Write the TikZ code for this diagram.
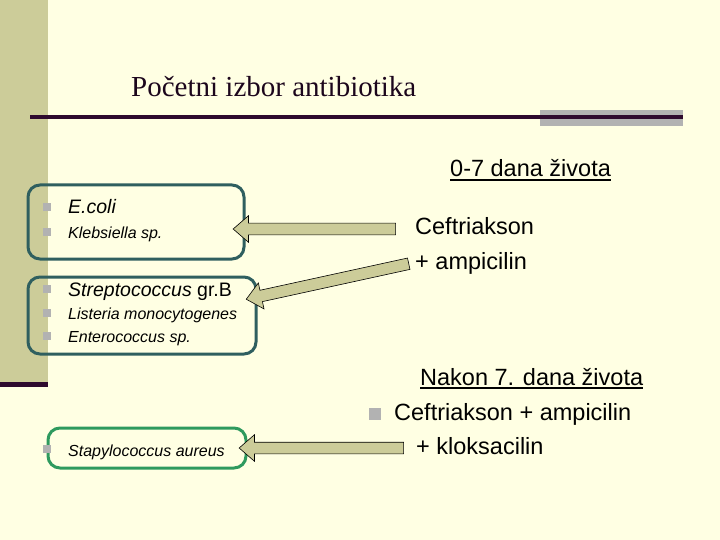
\documentclass[tikz,border=0pt]{standalone}
\usepackage{fontspec}
\setmainfont{Liberation Serif}
\setsansfont{Liberation Sans}
\usetikzlibrary{calc,shapes.arrows}
\definecolor{slidebg}{HTML}{FFFFE3}
\definecolor{bandkhaki}{HTML}{CCCC99}
\definecolor{ruleplum}{HTML}{2E0A2E}
\definecolor{bargray}{HTML}{B2B2B2}
\definecolor{boxteal}{HTML}{2F5F5F}
\definecolor{boxgreen}{HTML}{2E9A5E}

\tikzset{
  group/.style={draw=boxteal,line width=3pt,rounded corners=12pt,inner sep=0pt},
  bug/.style={font=\fontsize{#1}{#1}\sffamily\itshape,anchor=base west,inner sep=0pt},
  drug/.style={font=\fontsize{23.5}{23.5}\sffamily,anchor=base west,inner sep=0pt},
  fatarrow/.style={single arrow,draw=black,fill=bandkhaki,line width=0.6pt,
    inner xsep=0pt,inner ysep=5.5pt,minimum width=26pt,single arrow head extend=7.5pt,
    single arrow tip angle=82,midway,sloped,allow upside down},
}
\newcommand\blockarrow[2]{%
  \path let \p1=($(#2)-(#1)$), \n1={veclen(\x1,\y1)} in
    (#1) -- (#2) node[fatarrow,minimum height=\n1] {};}

\begin{document}
\begin{tikzpicture}[x=1pt,y=-1pt]
  \fill[slidebg] (0,0) rectangle (720,540);
  \useasboundingbox (0,0) rectangle (720,540);
  % left band and title rule
  \fill[bandkhaki] (0,0) rectangle (48,382);
  \fill[ruleplum] (0,382) rectangle (48,387);
  \fill[bargray] (540,110) rectangle (683,126);
  \draw[ruleplum,line width=4pt] (30,117) -- (683,117);
  \node[font=\fontsize{29}{29}\selectfont,anchor=base west,inner sep=0pt,text=ruleplum!60!black] (title) at (131,97) {Početni izbor antibiotika};

  % groups of bacteria
  \node[group,minimum width=216pt,minimum height=74pt] (box1) at (136,222) {};
  \node[group,minimum width=228pt,minimum height=77pt] (box2) at (142,315.5) {};
  \node[group,draw=boxgreen,minimum width=198pt,minimum height=40pt] (box3) at (147,448) {};
  \foreach \y in {207,232,289,313,336,449}
    \fill[bargray] (43,\y-4) rectangle (51,\y+4);
  \node[bug=19.5] (ecoli) at (68,214) {E.coli};
  \node[bug=16] (klebs) at (68,238) {Klebsiella sp.};
  \node[bug=19.5] (strep) at (68,296) {Streptococcus\upshape\ gr.B};
  \node[bug=16] (list) at (68,319) {Listeria monocytogenes};
  \node[bug=16] (entero) at (68,342) {Enterococcus sp.};
  \node[bug=16] (staph) at (68,456) {Stapylococcus aureus};

  % therapy 0-7 days
  \node[drug] (early) at (450,177) {0-7 dana života};
  \draw[line width=1.5pt] ($(early.base west)+(0,3)$) -- ($(early.base east)+(0,3)$);
  \node[drug] (ceft) at (415,234) {Ceftriakson};
  \node[drug] (amp) at (415,269) {+ ampicilin};

  % therapy after day 7
  \node[drug] (late) at (420,385) {Nakon 7. dana života};
  \draw[line width=1.5pt] ($(late.base west)+(0,3)$) -- ($(late.base east)+(0,3)$);
  \fill[bargray] (369,408) rectangle (381,420);
  \node[drug] (ceftamp) at (394,420) {Ceftriakson + ampicilin};
  \node[drug] (klox) at (416,454) {+ kloksacilin};

  % arrows
  \coordinate (a1) at (399,229);
  \coordinate (b1) at ($(box1.east)+(-9,7)$);
  \coordinate (a2) at (412,263);
  \coordinate (b2) at ($(box2.east)+(-8,-17)$);
  \coordinate (a3) at (407,448);
  \coordinate (b3) at ($(box3.east)+(-5,0)$);
  \blockarrow{a1}{b1}
  \blockarrow{a2}{b2}
  \blockarrow{a3}{b3}
\end{tikzpicture}
\end{document}
